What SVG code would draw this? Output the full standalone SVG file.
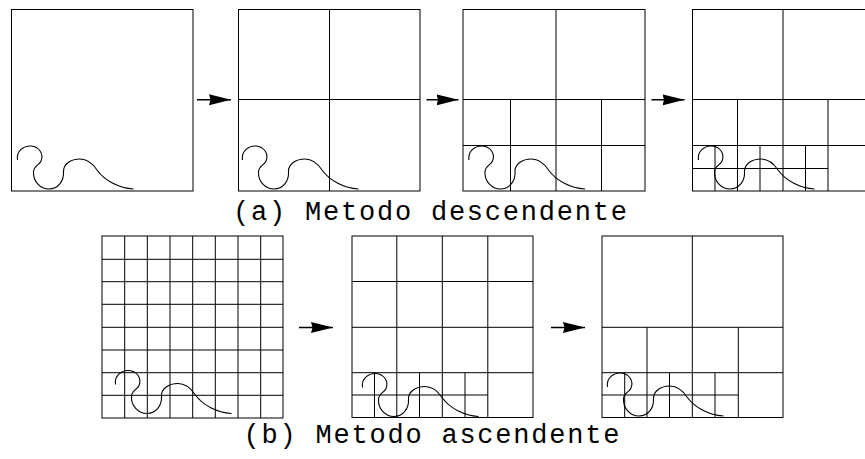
<svg xmlns="http://www.w3.org/2000/svg" width="865" height="459" viewBox="0 0 865 459">
<style>
.g line, .g rect{stroke:#000;stroke-width:1;fill:none}
.c{stroke:#000;stroke-width:1.1;fill:none}
.a{stroke:#000;stroke-width:1.6;fill:none}
.t{font-family:"Liberation Mono","DejaVu Sans Mono",monospace;font-size:27px;fill:#000}
</style>
<defs>
<path id="curve" d="M6.5,151 C5,142 13,136.5 20,137 C28,137.5 33,145 30,152 C28.5,156 22.5,157 22.5,163 C22,172 29,180 38,180 C47,180 53,172 52.5,163 C52,155 60,150 69,150 C76,150 82,155 86,161 C94,172 108,179 122.5,180"/>
<marker id="ah" markerUnits="userSpaceOnUse" markerWidth="24" markerHeight="12" refX="22" refY="5.5" orient="auto">
<path d="M0,0 L22,5.5 L0,11 L1.5,5.5 z" fill="#000"/>
</marker>
</defs>

<g id="box1" class="g">
<rect x="11.5" y="9.5" width="181.5" height="181.5"/>
<use href="#curve" class="c" transform="translate(11,9)"/>
</g>

<g id="box2" class="g">
<rect x="238.5" y="9.5" width="181.5" height="181.5"/>
<line x1="329.5" y1="9.5" x2="329.5" y2="191"/>
<line x1="238.5" y1="99.5" x2="420" y2="99.5"/>
<use href="#curve" class="c" transform="translate(236,9)"/>
</g>

<g id="box3" class="g">
<rect x="463" y="9.5" width="182" height="181.5"/>
<line x1="556" y1="9.5" x2="556" y2="191"/>
<line x1="463" y1="99.5" x2="645" y2="99.5"/>
<line x1="463" y1="145.5" x2="645" y2="145.5"/>
<line x1="510.5" y1="99.5" x2="510.5" y2="191"/>
<line x1="601.5" y1="99.5" x2="601.5" y2="191"/>
<use href="#curve" class="c" transform="translate(462.5,9)"/>
</g>

<g id="box4" class="g">
<rect x="692.5" y="9.5" width="181.5" height="181.5"/>
<line x1="783" y1="9.5" x2="783" y2="191"/>
<line x1="692.5" y1="99.5" x2="874" y2="99.5"/>
<line x1="692.5" y1="145.5" x2="874" y2="145.5"/>
<line x1="692.5" y1="168.5" x2="828" y2="168.5"/>
<line x1="737.5" y1="99.5" x2="737.5" y2="191"/>
<line x1="828" y1="99.5" x2="828" y2="191"/>
<line x1="715" y1="145.5" x2="715" y2="191"/>
<line x1="760" y1="145.5" x2="760" y2="191"/>
<line x1="805.5" y1="145.5" x2="805.5" y2="191"/>
<use href="#curve" class="c" transform="translate(692,9)"/>
</g>

<g id="box5" class="g">
<rect x="102" y="236" width="181" height="182"/>
<line x1="124.7" y1="236" x2="124.7" y2="418"/>
<line x1="147.3" y1="236" x2="147.3" y2="418"/>
<line x1="170" y1="236" x2="170" y2="418"/>
<line x1="192.7" y1="236" x2="192.7" y2="418"/>
<line x1="215.3" y1="236" x2="215.3" y2="418"/>
<line x1="238" y1="236" x2="238" y2="418"/>
<line x1="260.7" y1="236" x2="260.7" y2="418"/>
<line x1="102" y1="259.3" x2="283" y2="259.3"/>
<line x1="102" y1="281.7" x2="283" y2="281.7"/>
<line x1="102" y1="304.3" x2="283" y2="304.3"/>
<line x1="102" y1="327.3" x2="283" y2="327.3"/>
<line x1="102" y1="350" x2="283" y2="350"/>
<line x1="102" y1="372.7" x2="283" y2="372.7"/>
<line x1="102" y1="395.3" x2="283" y2="395.3"/>
<use href="#curve" class="c" transform="translate(109,233.5)"/>
</g>

<g id="box6" class="g">
<rect x="352" y="236" width="181" height="181.5"/>
<line x1="396.8" y1="236" x2="396.8" y2="417.5"/>
<line x1="442.3" y1="236" x2="442.3" y2="417.5"/>
<line x1="487.8" y1="236" x2="487.8" y2="417.5"/>
<line x1="352" y1="281.5" x2="533" y2="281.5"/>
<line x1="352" y1="327.3" x2="533" y2="327.3"/>
<line x1="352" y1="372.7" x2="533" y2="372.7"/>
<line x1="352" y1="395" x2="487.8" y2="395"/>
<line x1="374.5" y1="372.7" x2="374.5" y2="417.5"/>
<line x1="419.5" y1="372.7" x2="419.5" y2="417.5"/>
<line x1="465" y1="372.7" x2="465" y2="417.5"/>
<use href="#curve" class="c" transform="translate(356,236.5)"/>
</g>

<g id="box7" class="g">
<rect x="602" y="236" width="181" height="181.5"/>
<line x1="692.3" y1="236" x2="692.3" y2="417.5"/>
<line x1="602" y1="327.3" x2="783" y2="327.3"/>
<line x1="602" y1="372.7" x2="783" y2="372.7"/>
<line x1="602" y1="395" x2="738.3" y2="395"/>
<line x1="647" y1="327.3" x2="647" y2="417.5"/>
<line x1="738.3" y1="327.3" x2="738.3" y2="417.5"/>
<line x1="624.7" y1="372.7" x2="624.7" y2="417.5"/>
<line x1="669.5" y1="372.7" x2="669.5" y2="417.5"/>
<line x1="715" y1="372.7" x2="715" y2="417.5"/>
<use href="#curve" class="c" transform="translate(601,236)"/>
</g>

<g id="connectors">
<line class="a" x1="197" y1="99.8" x2="231" y2="99.8" marker-end="url(#ah)"/>
<line class="a" x1="426.5" y1="99.8" x2="458.5" y2="99.8" marker-end="url(#ah)"/>
<line class="a" x1="651.5" y1="99.8" x2="684.5" y2="99.8" marker-end="url(#ah)"/>
<line class="a" x1="299" y1="327.5" x2="333" y2="327.5" marker-end="url(#ah)"/>
<line class="a" x1="551" y1="327.5" x2="585" y2="327.5" marker-end="url(#ah)"/>
</g>

<g id="labels">
<text class="t" x="430" y="220" text-anchor="middle" textLength="394" lengthAdjust="spacing">(a) Metodo descendente</text>
<text class="t" x="431.5" y="442.5" text-anchor="middle" textLength="376" lengthAdjust="spacing">(b) Metodo ascendente</text>
</g>
</svg>
